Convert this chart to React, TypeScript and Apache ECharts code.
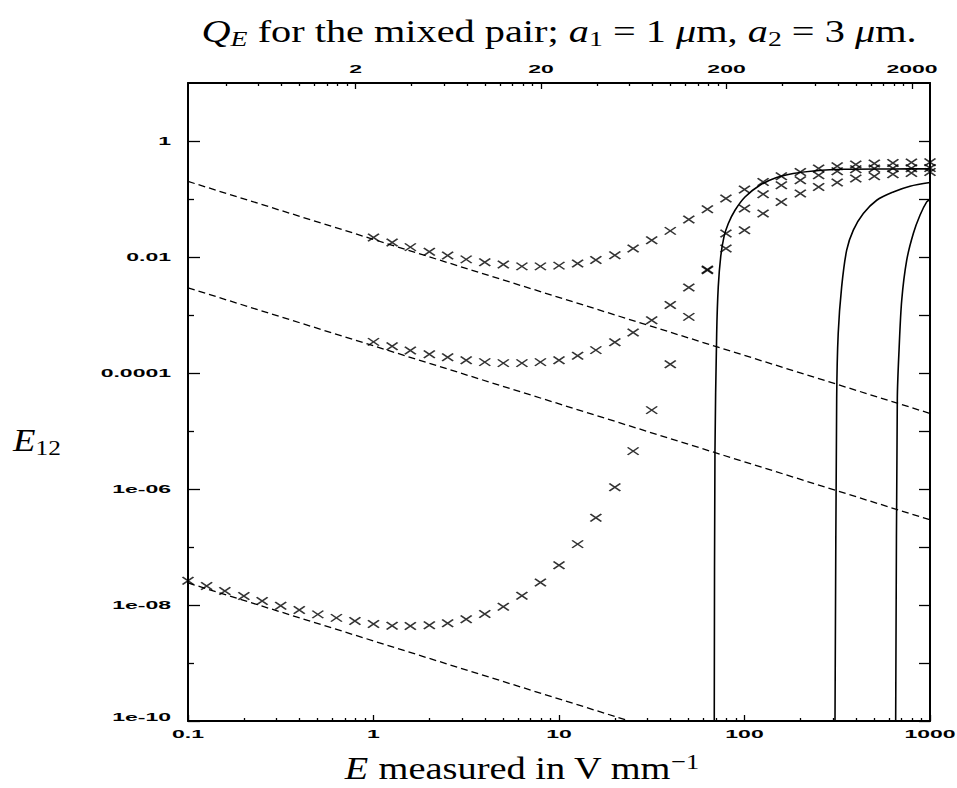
import { useEffect, useRef } from "react";
import * as echarts from "echarts";

// Field strengths sampled at ten points per decade (V/mm)
const lowField = [0.1, 0.126, 0.158, 0.2, 0.251, 0.316, 0.398, 0.501, 0.631, 0.794];
const field = [
  1, 1.26, 1.58, 2, 2.51, 3.16, 3.98, 5.01, 6.31, 7.94, 10, 12.6, 15.8, 20, 25.1, 31.6, 39.8, 50.1,
  63.1, 79.4, 100, 126, 158, 200, 251, 316, 398, 501, 631, 794, 1000,
];

// Computed E12 values (crosses)
const crossUpper = [
  0.0217, 0.0178, 0.0148, 0.0123, 0.0106, 0.0091, 0.0081, 0.0074, 0.0069, 0.0069, 0.0071, 0.0077,
  0.0089, 0.0107, 0.014, 0.0195, 0.0282, 0.0443, 0.0667, 0.102, 0.146, 0.197, 0.247, 0.292, 0.335,
  0.367, 0.393, 0.408, 0.418, 0.425, 0.43,
];
const crossMiddle = [
  3.44e-4, 2.9e-4, 2.45e-4, 2.11e-4, 1.87e-4, 1.66e-4, 1.54e-4, 1.48e-4, 1.48e-4, 1.54e-4, 1.66e-4,
  1.99e-4, 2.48e-4, 3.4e-4, 5.0e-4, 8.14e-4, 1.49e-3, 2.98e-3, 6.08e-3, 0.014, 0.029, 0.0562, 0.089,
  0.124, 0.161, 0.192, 0.225, 0.247, 0.267, 0.281, 0.292,
];
const crossLower = [
  2.62e-8, 2.12e-8, 1.74e-8, 1.43e-8, 1.17e-8, 9.7e-9, 8.2e-9, 6.9e-9, 6.0e-9, 5.3e-9, 4.7e-9, 4.4e-9,
  4.35e-9, 4.47e-9, 4.83e-9, 5.66e-9, 6.98e-9, 9.33e-9, 1.44e-8, 2.44e-8, 4.83e-8, 1.12e-7, 3.19e-7,
  1.07e-6, 4.5e-6, 2.29e-5, 1.42e-4, 9.29e-4, 5.92e-3, 0.0254, 0.0685, 0.121, 0.173, 0.211, 0.257,
  0.301, 0.326, 0.335, 0.338, 0.34, 0.342,
];

// Low-field asymptotes (dashed), [E, E12]
const dashedUpper = [
  [0.1, 0.201],
  [1000, 2.01e-5],
];
const dashedMiddle = [
  [0.1, 2.94e-3],
  [1000, 2.94e-7],
];
const dashedLower = [
  [0.1, 2.4e-8],
  [24, 1e-10],
];

// High-field approximations (solid), [E, E12]
const solidFirst = [
  [68.7, 1e-10], [69.3, 4.3e-6], [70.8, 4.8e-4], [72.2, 3.05e-3], [74.4, 0.01], [77.5, 0.0222],
  [81.8, 0.0378], [88.9, 0.064], [100.6, 0.1085], [121, 0.1726], [149, 0.234], [183, 0.275],
  [235, 0.304], [341, 0.326], [634, 0.33], [1000, 0.331],
];
const solidSecond = [
  [307.5, 1e-10], [314, 3.6e-5], [320, 4.8e-4], [334, 3.05e-3], [355.5, 0.0131], [386, 0.029],
  [437, 0.0561], [516, 0.0952], [634, 0.132], [780, 0.166], [1000, 0.192],
];
const solidThird = [
  [653, 1e-10], [666.5, 3.6e-5], [681, 2.5e-4], [704, 1.8e-3], [749, 8.8e-3], [813, 0.0254],
  [883, 0.0525], [960, 0.089], [1000, 0.098],
];

// Axis ticks
const bottomMajor = [0.1, 1, 10, 100, 1000];
const bottomLabels = ["0.1", "1", "10", "100", "1000"];
const bottomMinor = [
  0.2, 0.3, 0.4, 0.5, 0.6, 0.7, 0.8, 0.9, 2, 3, 4, 5, 6, 7, 8, 9, 20, 30, 40, 50, 60, 70, 80, 90,
  200, 300, 400, 500, 600, 700, 800, 900,
];
const topMajor = [2, 20, 200, 2000];
const topLabels = ["2", "20", "200", "2000"];
const topMinor = [
  0.4, 0.6, 0.8, 1, 1.2, 1.4, 1.6, 1.8, 4, 6, 8, 10, 12, 14, 16, 18, 40, 60, 80, 100, 120, 140, 160,
  180, 400, 600, 800, 1000, 1200, 1400, 1600, 1800,
];
const yMajor = [1e-10, 1e-8, 1e-6, 1e-4, 1e-2, 1];
const yLabels = ["1e-10", "1e-08", "1e-06", "0.0001", "0.01", "1"];
const yMinor = [1e-9, 1e-7, 1e-5, 1e-3, 0.1];
const yAll = [1e-10, 1e-9, 1e-8, 1e-7, 1e-6, 1e-5, 1e-4, 1e-3, 1e-2, 0.1, 1];

const INK = "#000";
const SERIF = '"Liberation Serif", "Times New Roman", serif';
const SANS = '"Liberation Sans", Arial, sans-serif';

function logAxis(
  position: string,
  min: number,
  max: number,
  ticks: number[],
  tickLength: number,
  showLine: boolean
) {
  return {
    type: "log",
    logBase: 10,
    position,
    min,
    max,
    axisLine: { show: showLine, lineStyle: { color: INK, width: 2 } },
    axisTick: {
      show: true,
      inside: true,
      length: tickLength,
      customValues: ticks,
      lineStyle: { color: INK, width: 1.3 },
    },
    axisLabel: { show: false },
    splitLine: { show: false },
    minorTick: { show: false },
    minorSplitLine: { show: false },
  };
}

const crossSymbol = "path://M0,0L11,7.5M11,0L0,7.5";

function crossSeries(xs: number[], ys: number[]) {
  return {
    type: "scatter",
    xAxisIndex: 0,
    yAxisIndex: 0,
    symbol: crossSymbol,
    symbolSize: [11, 7.5],
    itemStyle: { color: "none", borderColor: INK, borderWidth: 1.6 },
    data: ys.map((y, i) => [xs[i], y]),
    clip: false,
  };
}

function lineSeries(data: number[][], dashed: boolean) {
  return {
    type: "line",
    xAxisIndex: 0,
    yAxisIndex: 0,
    showSymbol: false,
    symbol: "none",
    smooth: dashed ? false : 0.3,
    lineStyle: dashed
      ? { color: INK, width: 1.3, type: [7, 4] }
      : { color: INK, width: 1.6 },
    data,
  };
}

export default function App() {
  const ref = useRef<HTMLDivElement>(null);

  useEffect(() => {
    const chart = echarts.init(ref.current!, undefined, { renderer: "svg" });
    const allField = lowField.concat(field);

    chart.setOption({
      animation: false,
      backgroundColor: "#fff",
      grid: { left: 188, right: 27, top: 83, bottom: 67, containLabel: false },
      xAxis: [
        logAxis("bottom", 0.1, 1000, bottomMajor, 6, true),
        logAxis("bottom", 0.1, 1000, bottomMinor, 3, false),
        logAxis("top", 0.25, 2500, topMajor, 6, true),
        logAxis("top", 0.25, 2500, topMinor, 3, false),
      ],
      yAxis: [
        logAxis("left", 1e-10, 10, yMajor, 12, true),
        logAxis("left", 1e-10, 10, yMinor, 6, false),
        logAxis("right", 1e-10, 10, yAll, 11, true),
      ],
      series: [
        lineSeries(dashedUpper, true),
        lineSeries(dashedMiddle, true),
        lineSeries(dashedLower, true),
        lineSeries(solidFirst, false),
        lineSeries(solidSecond, false),
        lineSeries(solidThird, false),
        crossSeries(field, crossUpper),
        crossSeries(field, crossMiddle),
        crossSeries(allField, crossLower),
      ],
    });

    const xPix = (v: number, idx: number) =>
      chart.convertToPixel({ xAxisIndex: idx }, v) as number;
    const yPix = (v: number) => chart.convertToPixel({ yAxisIndex: 0 }, v) as number;

    const yBottom = yPix(1e-10);
    const yTop = yPix(10);
    const xLeft = xPix(0.1, 0);

    const tickFont = { fontFamily: SANS, fontWeight: "bold", fontSize: 11.5, fill: INK };
    const elements: any[] = [];

    bottomMajor.forEach((v, i) => {
      elements.push({
        type: "text",
        x: xPix(v, 0),
        y: yBottom + 13,
        scaleX: 2,
        style: { text: bottomLabels[i], align: "center", verticalAlign: "middle", ...tickFont },
      });
    });
    topMajor.forEach((v, i) => {
      elements.push({
        type: "text",
        x: xPix(v, 2),
        y: yTop - 14,
        scaleX: 2,
        style: { text: topLabels[i], align: "center", verticalAlign: "middle", ...tickFont },
      });
    });
    yMajor.forEach((v, i) => {
      elements.push({
        type: "text",
        x: xLeft - 17,
        y: yPix(v) - (v === 1e-10 ? 4 : 0),
        scaleX: 2,
        style: { text: yLabels[i], align: "right", verticalAlign: "middle", ...tickFont },
      });
    });

    const main = { fontFamily: SERIF, fontSize: 32, lineHeight: 38, fill: INK, verticalAlign: "middle" };
    const ital = { ...main, fontStyle: "italic" };
    const sub = { fontFamily: SERIF, fontSize: 22, lineHeight: 19, fill: INK, verticalAlign: "bottom" };
    const italSub = { ...sub, fontStyle: "italic" };
    const sup = { fontFamily: SERIF, fontSize: 22, lineHeight: 19, fill: INK, verticalAlign: "top" };
    const rich = { r: main, i: ital, s: sub, is: italSub, p: sup };

    elements.push({
      type: "text",
      x: 559,
      y: 31,
      scaleX: 1.26,
      style: {
        text: "{i|Q}{is|E}{r| for the mixed pair; }{i|a}{s|1}{r| = 1 }{i|μ}{r|m, }{i|a}{s|2}{r| = 3 }{i|μ}{r|m.}",
        rich,
        align: "center",
        verticalAlign: "middle",
      },
    });
    elements.push({
      type: "text",
      x: 522,
      y: 769,
      scaleX: 1.2,
      style: {
        text: "{i|E}{r| measured in V mm}{p|−1}",
        rich,
        align: "center",
        verticalAlign: "middle",
      },
    });
    elements.push({
      type: "text",
      x: 37,
      y: 440,
      scaleX: 1.15,
      style: {
        text: "{i|E}{s|12}",
        rich,
        align: "center",
        verticalAlign: "middle",
      },
    });

    chart.setOption({ graphic: { elements } });

    return () => chart.dispose();
  }, []);

  return (
    <div
      ref={ref}
      style={{ position: "absolute", left: 0, top: 0, width: 957, height: 788, background: "#fff" }}
    />
  );
}
